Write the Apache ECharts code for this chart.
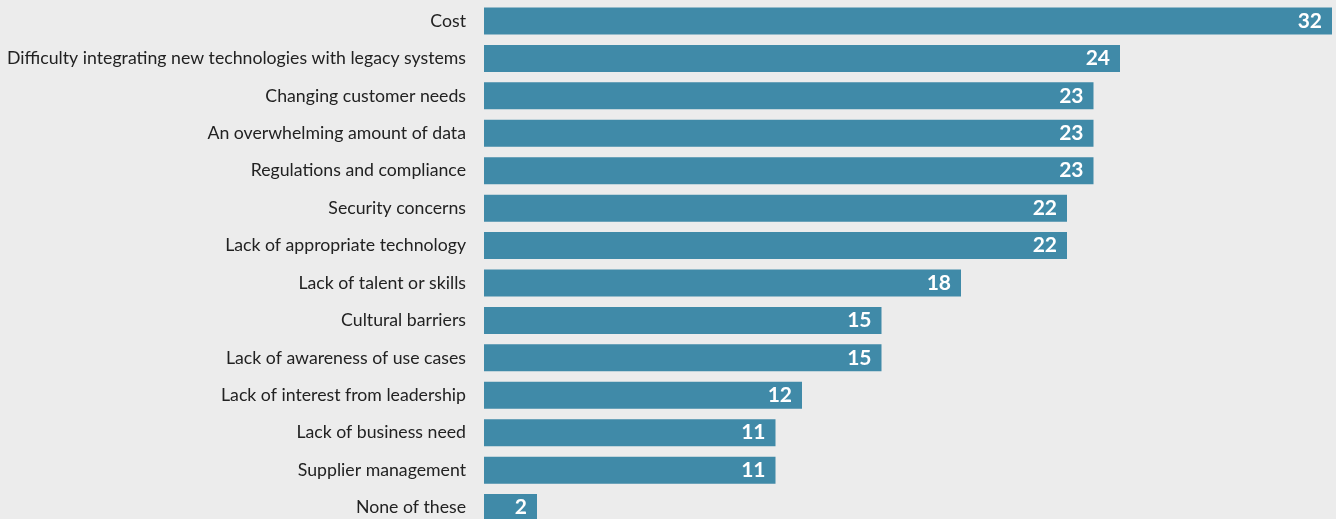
<!DOCTYPE html>
<html><head><meta charset="utf-8">
<script src="https://cdn.jsdelivr.net/npm/echarts@6/dist/echarts.min.js"></script>
<style>html,body{margin:0;padding:0;background:#ececec;}#c{width:1336px;height:519px;}</style>
</head><body><div id="c"></div>
<script>
const categories = [
  "Cost",
  "Difficulty integrating new technologies with legacy systems",
  "Changing customer needs",
  "An overwhelming amount of data",
  "Regulations and compliance",
  "Security concerns",
  "Lack of appropriate technology",
  "Lack of talent or skills",
  "Cultural barriers",
  "Lack of awareness of use cases",
  "Lack of interest from leadership",
  "Lack of business need",
  "Supplier management",
  "None of these"
];
const values = [32, 24, 23, 23, 23, 22, 22, 18, 15, 15, 12, 11, 11, 2];

const chart = echarts.init(document.getElementById('c'), null, {renderer: 'canvas'});
chart.setOption({
  backgroundColor: '#ececec',
  animation: false,
  grid: {left: 484, width: 848, top: 2.3, height: 524, containLabel: false, outerBoundsMode: 'none'},
  xAxis: {type: 'value', min: 0, max: 32, show: false},
  yAxis: {
    type: 'category', data: categories, inverse: true,
    axisLine: {show: false}, axisTick: {show: false}, splitLine: {show: false},
    axisLabel: {fontFamily: 'Lato', fontSize: 17.7, color: '#222', margin: 18, verticalAlign: 'middle', lineHeight: 18, padding: [0,0,3,0]}
  },
  series: [{
    type: 'bar', data: values, barWidth: 27,
    itemStyle: {color: '#408aa8'},
    label: {show: true, position: 'insideRight', distance: 10, color: '#fff', fontFamily: 'Lato', fontWeight: 'bold', fontSize: 21, padding: [3,0,0,0]}
  }]
});
</script></body></html>
